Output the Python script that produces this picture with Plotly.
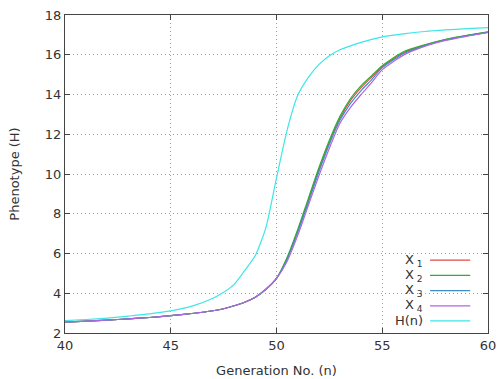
import plotly.graph_objects as go

gen = [40, 41, 42, 43, 44, 45, 46, 47, 47.5, 48, 48.5, 49, 49.5, 50, 50.5, 51, 51.5,
       52, 52.5, 53, 53.5, 54, 54.5, 55, 56, 57, 58, 59, 60]

x1 = [2.55, 2.60, 2.65, 2.71, 2.78, 2.87, 2.98, 3.12, 3.22, 3.37, 3.55, 3.80, 4.20, 4.75, 5.75, 7.12,
      8.65, 10.2, 11.6, 12.8, 13.7, 14.35, 14.88, 15.40, 16.10, 16.47, 16.76, 16.97, 17.14]
x2 = [2.55, 2.60, 2.65, 2.71, 2.78, 2.87, 2.98, 3.12, 3.22, 3.37, 3.55, 3.80, 4.20, 4.75, 5.80, 7.20,
      8.75, 10.3, 11.7, 12.9, 13.8, 14.45, 14.95, 15.45, 16.15, 16.50, 16.78, 16.98, 17.15]
x3 = [2.55, 2.60, 2.65, 2.71, 2.78, 2.87, 2.98, 3.12, 3.22, 3.37, 3.55, 3.80, 4.20, 4.75, 5.70, 7.05,
      8.55, 10.1, 11.5, 12.7, 13.55, 14.2, 14.75, 15.35, 16.05, 16.45, 16.74, 16.95, 17.13]
x4 = [2.55, 2.60, 2.65, 2.71, 2.78, 2.87, 2.98, 3.12, 3.22, 3.37, 3.55, 3.80, 4.20, 4.75, 5.60, 6.90,
      8.40, 9.9, 11.3, 12.55, 13.35, 14.0, 14.6, 15.25, 15.98, 16.42, 16.72, 16.93, 17.12]
hn = [2.62, 2.68, 2.75, 2.85, 2.96, 3.11, 3.35, 3.75, 4.05, 4.45, 5.15, 5.90, 7.30, 9.80, 12.2, 13.95,
      14.85, 15.5, 15.95, 16.25, 16.45, 16.62, 16.77, 16.90, 17.05, 17.17, 17.25, 17.31, 17.36]

names = ["X<sub> 1</sub>", "X<sub> 2</sub>", "X<sub> 3</sub>", "X<sub> 4</sub>", "H(n)"]
series = [x1, x2, x3, x4, hn]
colors = ["#e04a4a", "#2eae2e", "#3a8fc8", "#b066dd", "#3ee6e6"]

x_ticks = [40, 45, 50, 55, 60]
y_ticks = [2, 4, 6, 8, 10, 12, 14, 16, 18]

fig = go.Figure()
for s, c, n in zip(series, colors, names):
    fig.add_trace(go.Scatter(x=gen, y=s, mode="lines", name=n, line_shape="spline",
                             line=dict(color=c, width=1.2, smoothing=0.6), showlegend=False))

font = dict(family="DejaVu Sans", size=13, color="#333333")

# gnuplot-style key (text right-aligned, sample line to the right)
rows = [0.229, 0.181, 0.133, 0.085, 0.038]
shapes = []
annotations = []
for n, c, yy in zip(names, colors, rows):
    annotations.append(dict(xref="paper", yref="paper", x=0.851, y=yy, text=n,
                            showarrow=False, xanchor="right", yanchor="middle",
                            font=dict(family="DejaVu Sans", size=13, color="#333333")))
    shapes.append(dict(type="line", xref="paper", yref="paper", x0=0.863, x1=0.958,
                       y0=yy, y1=yy, line=dict(color=c, width=1.2)))

grid_dash = "1px,3px"
fig.update_layout(
    width=497, height=379,
    margin=dict(l=65, r=9, t=15, b=46),
    paper_bgcolor="white", plot_bgcolor="white",
    font=font,
    shapes=shapes, annotations=annotations,
    xaxis=dict(range=[40, 60], tickvals=x_ticks, ticks="inside", ticklen=5,
               showline=True, mirror="ticks", linecolor="#444444", linewidth=1,
               tickcolor="#444444", automargin=False,
               showgrid=True, gridcolor="#a0a0a0", griddash=grid_dash, gridwidth=1,
               zeroline=False,
               title=dict(text="Generation No. (n)", font=font, standoff=14)),
    yaxis=dict(range=[2, 18], tickvals=y_ticks, ticks="inside", ticklen=5,
               showline=True, mirror="ticks", linecolor="#444444", linewidth=1,
               tickcolor="#444444", automargin=False,
               showgrid=True, gridcolor="#a0a0a0", griddash=grid_dash, gridwidth=1,
               zeroline=False,
               title=dict(text="Phenotype (H)", font=font, standoff=22)),
)

fig.write_html("out.html")
